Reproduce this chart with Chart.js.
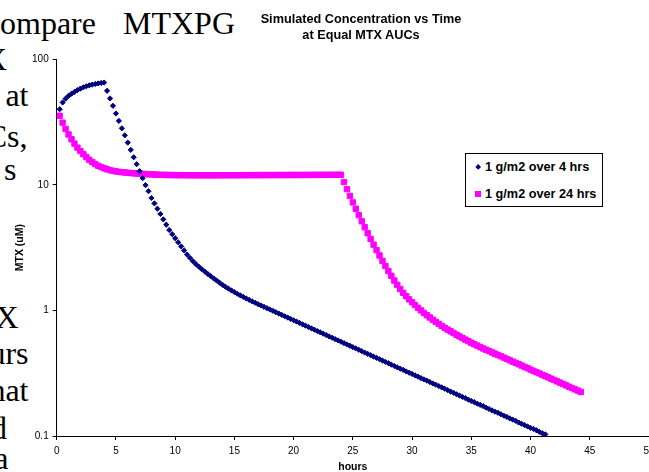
<!DOCTYPE html>
<html>
<head>
<meta charset="utf-8">
<title>Simulated Concentration vs Time</title>
<script src="https://cdn.jsdelivr.net/npm/chart.js@4.4.0/dist/chart.umd.min.js"></script>
<style>
  html, body { margin: 0; padding: 0; background: #fff; }
  body { width: 649px; height: 472px; position: relative; overflow: hidden; }
  #chart { position: absolute; left: 0; top: 0; }
  .slide {
    position: absolute;
    font-family: "Liberation Serif", "Times New Roman", serif;
    font-size: 32px;
    line-height: 32px;
    color: #000;
    white-space: nowrap;
  }
  .slide.r { text-align: right; }
  #title {
    position: absolute;
    left: 161px;
    width: 400px;
    top: 12.3px;
    text-align: center;
    font: bold 12.7px/15.7px "Liberation Sans", Arial, sans-serif;
    color: #000;
  }
  #legend-box {
    position: absolute;
    left: 465px;
    top: 153px;
    width: 136px;
    height: 52px;
    border: 1px solid #000;
    background: #fff;
  }
  .legend-text {
    position: absolute;
    left: 485px;
    font: bold 12.7px/14px "Liberation Sans", Arial, sans-serif;
    color: #000;
    white-space: nowrap;
  }
  .legend-mark { position: absolute; }
</style>
</head>
<body>
  <!-- slide text showing behind the chart -->
  <div class="slide" style="left:0; top:6.5px;">ompare</div>
  <div class="slide" style="left:123px; top:6.5px;">MTXPG</div>
  <div class="slide r" style="right:642px; top:43.2px;">X</div>
  <div class="slide r" style="right:620.5px; top:79.2px;">at</div>
  <div class="slide r" style="right:621.5px; top:120.2px;">Cs,</div>
  <div class="slide r" style="right:632.5px; top:153.2px;">s</div>
  <div class="slide r" style="right:630.5px; top:301.2px;">X</div>
  <div class="slide r" style="right:620.5px; top:336.5px;">urs</div>
  <div class="slide r" style="right:620.5px; top:373.9px;">hat</div>
  <div class="slide r" style="right:642px; top:411.5px;">d</div>
  <div class="slide r" style="right:640.5px; top:442.2px;">a</div>

  <canvas id="chart" width="649" height="472"></canvas>
  <div id="title"></div>
  <div id="legend-box"></div>

<script>
// sample times (hours)
const hours = [
  0.25, 0.5, 0.75, 1, 1.25, 1.5, 1.75, 2, 2.25, 2.5, 2.75, 3, 3.25, 3.5, 3.75, 4,
  4.25, 4.5, 4.75, 5, 5.25, 5.5, 5.75, 6, 6.25, 6.5, 6.75, 7, 7.25, 7.5, 7.75, 8,
  8.25, 8.5, 8.75, 9, 9.25, 9.5, 9.75, 10, 10.25, 10.5, 10.75, 11, 11.25, 11.5, 11.75, 12,
  12.25, 12.5, 12.75, 13, 13.25, 13.5, 13.75, 14, 14.25, 14.5, 14.75, 15, 15.25, 15.5, 15.75, 16,
  16.25, 16.5, 16.75, 17, 17.25, 17.5, 17.75, 18, 18.25, 18.5, 18.75, 19, 19.25, 19.5, 19.75, 20,
  20.25, 20.5, 20.75, 21, 21.25, 21.5, 21.75, 22, 22.25, 22.5, 22.75, 23, 23.25, 23.5, 23.75, 24,
  24.25, 24.5, 24.75, 25, 25.25, 25.5, 25.75, 26, 26.25, 26.5, 26.75, 27, 27.25, 27.5, 27.75, 28,
  28.25, 28.5, 28.75, 29, 29.25, 29.5, 29.75, 30, 30.25, 30.5, 30.75, 31, 31.25, 31.5, 31.75, 32,
  32.25, 32.5, 32.75, 33, 33.25, 33.5, 33.75, 34, 34.25, 34.5, 34.75, 35, 35.25, 35.5, 35.75, 36,
  36.25, 36.5, 36.75, 37, 37.25, 37.5, 37.75, 38, 38.25, 38.5, 38.75, 39, 39.25, 39.5, 39.75, 40,
  40.25, 40.5, 40.75, 41, 41.25, 41.5, 41.75, 42, 42.25, 42.5, 42.75, 43, 43.25, 43.5, 43.75, 44,
  44.25
];

// MTX (uM), 1 g/m2 over 4 hrs
const over4hrs = [
  40, 45.3, 48.6, 51.2, 53.2, 55, 56.8, 58.4, 59.8, 61, 62, 62.9, 63.6, 64.2, 64.8, 65.3,
  56.1, 48.8, 42.6, 37.0, 32.3, 28.2, 24.8, 21.7, 19.0, 16.6, 14.6, 12.85, 11.3, 9.95, 8.9, 7.86,
  7.12, 6.46, 5.86, 5.31, 4.82, 4.37, 4.05, 3.76, 3.49, 3.24, 3.01, 2.79, 2.62, 2.47, 2.34, 2.23,
  2.13, 2.04, 1.954, 1.875, 1.799, 1.73, 1.663, 1.6, 1.543, 1.491, 1.444, 1.4, 1.358, 1.318, 1.281, 1.246,
  1.213, 1.181, 1.151, 1.122, 1.095, 1.068, 1.042, 1.017, 0.992, 0.968, 0.944, 0.921, 0.899, 0.877, 0.856, 0.835,
  0.815, 0.795, 0.775, 0.756, 0.738, 0.72, 0.703, 0.685, 0.669, 0.653, 0.637, 0.621, 0.606, 0.591, 0.577, 0.563,
  0.549, 0.536, 0.523, 0.51, 0.498, 0.486, 0.474, 0.462, 0.451, 0.44, 0.429, 0.419, 0.409, 0.399, 0.389, 0.38,
  0.37, 0.361, 0.352, 0.344, 0.336, 0.327, 0.319, 0.312, 0.304, 0.297, 0.289, 0.282, 0.276, 0.269, 0.262, 0.256,
  0.25, 0.244, 0.238, 0.232, 0.226, 0.221, 0.215, 0.21, 0.205, 0.2, 0.195, 0.19, 0.186, 0.181, 0.177, 0.173,
  0.168, 0.164, 0.16, 0.156, 0.153, 0.149, 0.145, 0.142, 0.138, 0.135, 0.132, 0.128, 0.125, 0.122, 0.119, 0.116,
  0.114, 0.111, 0.108, 0.105, 0.103
];

// MTX (uM), 1 g/m2 over 24 hrs
const over24hrs = [
  35.5, 31.3, 27.9, 25.2, 23.1, 21.3, 19.8, 18.6, 17.55, 16.65, 15.85, 15.2, 14.65, 14.2, 13.85, 13.55,
  13.3, 13.1, 12.93, 12.8, 12.7, 12.62, 12.55, 12.48, 12.42, 12.37, 12.32, 12.27, 12.23, 12.19, 12.15, 12.11,
  12.08, 12.05, 12.03, 12.01, 11.99, 11.98, 11.97, 11.96, 11.95, 11.95, 11.94, 11.94, 11.93, 11.93, 11.93, 11.92,
  11.92, 11.92, 11.92, 11.92, 11.92, 11.92, 11.93, 11.93, 11.93, 11.93, 11.94, 11.94, 11.94, 11.94, 11.95, 11.95,
  11.95, 11.95, 11.96, 11.96, 11.96, 11.96, 11.97, 11.97, 11.97, 11.97, 11.98, 11.98, 11.98, 11.98, 11.99, 11.99,
  11.99, 11.99, 12.0, 12.0, 12.0, 12.0, 12.01, 12.01, 12.01, 12.01, 12.02, 12.02, 12.02, 12.02, 12.03, 12.03,
  10.53, 9.25, 8.17, 7.25, 6.45, 5.74, 5.13, 4.6, 4.12, 3.71, 3.34, 3.02, 2.74, 2.48, 2.26, 2.06,
  1.885, 1.731, 1.597, 1.48, 1.381, 1.298, 1.225, 1.162, 1.104, 1.05, 1.001, 0.956, 0.915, 0.878, 0.843, 0.811,
  0.781, 0.754, 0.728, 0.704, 0.682, 0.661, 0.64, 0.621, 0.603, 0.586, 0.569, 0.553, 0.538, 0.525, 0.511, 0.498,
  0.486, 0.475, 0.463, 0.452, 0.442, 0.431, 0.421, 0.411, 0.401, 0.391, 0.382, 0.373, 0.364, 0.355, 0.347, 0.338,
  0.33, 0.322, 0.315, 0.307, 0.3, 0.293, 0.286, 0.279, 0.272, 0.266, 0.259, 0.253, 0.247, 0.241, 0.235, 0.23,
  0.224
];

const seriesNames = ["1 g/m2 over 4 hrs", "1 g/m2 over 24 hrs"];
const seriesColors = ["#000080", "#FF00FF"];
const titleLines = ["Simulated Concentration vs Time", "at Equal MTX AUCs"];
const xTicks = [0, 5, 10, 15, 20, 25, 30, 35, 40, 45, 50];
const yTicks = [0.1, 1, 10, 100];
const xTitle = "hours";
const yTitle = "MTX (uM)";

const FONT = "'Liberation Sans', Arial, sans-serif";

function toPoints(values) {
  return values.map((v, i) => ({ x: hours[i], y: v }));
}

document.getElementById("title").innerHTML = titleLines.join("<br>");

// legend (html, placed like the excel one)
const legendRows = [167.3, 194.3];
seriesNames.forEach((name, i) => {
  const mark = document.createElement("div");
  mark.className = "legend-mark";
  mark.style.background = seriesColors[i];
  if (i === 0) {
    mark.style.width = "4.4px";
    mark.style.height = "4.4px";
    mark.style.left = (477.7 - 2.2) + "px";
    mark.style.top = (legendRows[i] - 2.2) + "px";
    mark.style.transform = "rotate(45deg)";
  } else {
    mark.style.width = "6px";
    mark.style.height = "6px";
    mark.style.left = (477.7 - 3) + "px";
    mark.style.top = (legendRows[i] - 3) + "px";
  }
  document.body.appendChild(mark);

  const txt = document.createElement("div");
  txt.className = "legend-text";
  txt.textContent = name;
  txt.style.top = (legendRows[i] - 6.85) + "px";
  document.body.appendChild(txt);
});

const ctx = document.getElementById("chart").getContext("2d");

new Chart(ctx, {
  type: "scatter",
  data: {
    datasets: [
      {
        label: seriesNames[0],
        data: toPoints(over4hrs),
        showLine: false,
        pointStyle: "rectRot",
        pointRadius: 2.6,
        pointBorderWidth: 1,
        pointBackgroundColor: seriesColors[0],
        pointBorderColor: seriesColors[0],
      },
      {
        label: seriesNames[1],
        data: toPoints(over24hrs),
        showLine: false,
        pointStyle: "rect",
        pointRadius: 3.8,
        pointBorderWidth: 1,
        pointBackgroundColor: seriesColors[1],
        pointBorderColor: seriesColors[1],
      },
    ],
  },
  options: {
    responsive: false,
    animation: false,
    events: [],
    layout: {
      autoPadding: false,
      padding: { top: 59.3, left: 0, right: 0, bottom: 0 },
    },
    plugins: {
      legend: { display: false },
      title: { display: false },
      tooltip: { enabled: false },
    },
    scales: {
      x: {
        type: "linear",
        min: 0,
        max: 50,
        afterBuildTicks: (axis) => {
          axis.ticks = xTicks.map((v) => ({ value: v }));
        },
        afterFit: (scale) => {
          scale.height = 36;
          scale.paddingRight = 0;
        },
        ticks: {
          color: "#000",
          padding: 5,
          maxRotation: 0,
          autoSkip: false,
          font: { family: FONT, size: 10 },
        },
        grid: {
          drawOnChartArea: false,
          drawTicks: true,
          tickLength: 4,
          color: "#000",
        },
        border: { display: true, color: "#000", width: 1 },
        title: {
          display: true,
          text: xTitle,
          color: "#000",
          padding: { top: 0, bottom: 0 },
          font: { family: FONT, size: 10.5, weight: "bold", lineHeight: 1 },
        },
      },
      y: {
        type: "logarithmic",
        min: 0.1,
        max: 100,
        afterBuildTicks: (axis) => {
          axis.ticks = yTicks.map((v) => ({ value: v }));
        },
        afterFit: (scale) => {
          scale.width = 56.7;
        },
        ticks: {
          color: "#000",
          padding: 4,
          callback: (v) => String(v),
          font: { family: FONT, size: 10 },
        },
        grid: {
          drawOnChartArea: false,
          drawTicks: true,
          tickLength: 4,
          color: "#000",
        },
        border: { display: true, color: "#000", width: 1 },
        title: {
          display: true,
          text: yTitle,
          color: "#000",
          padding: { top: 14, bottom: 0 },
          font: { family: FONT, size: 10.5, weight: "bold" },
        },
      },
    },
  },
});
</script>
</body>
</html>
